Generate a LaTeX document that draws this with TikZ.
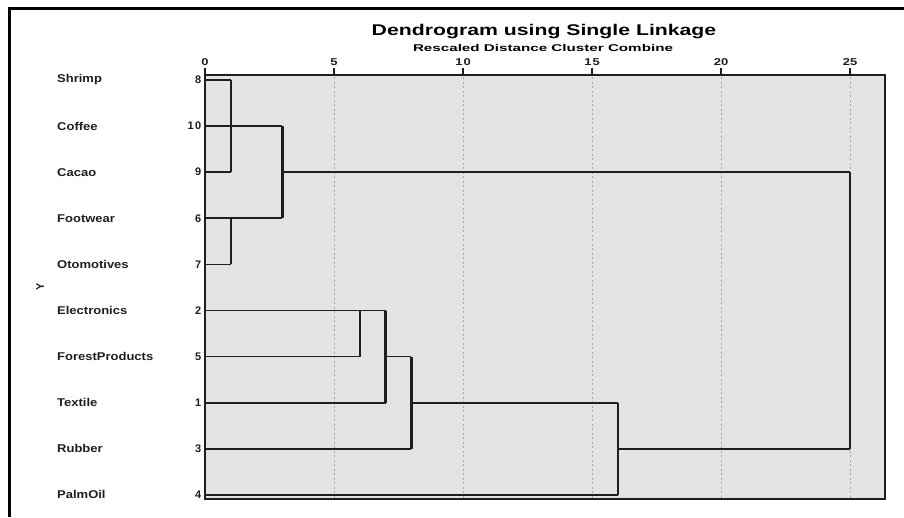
\documentclass[tikz,border=0pt]{standalone}
\usepackage{fontspec}
\usepackage{graphicx}
\setmainfont{Liberation Sans}
\definecolor{plotbg}{HTML}{E3E3E3}
\definecolor{gridc}{HTML}{A8A8A8}
\definecolor{ink}{HTML}{1E1E1E}
\newcommand\stretchtxt[2]{\scalebox{#1}[1]{#2}}
\begin{document}
\begin{tikzpicture}[x=1pt,y=-1pt,
  namelab/.style={font=\bfseries\fontsize{11.3}{11}\selectfont, inner sep=0pt, anchor=west, text=ink},
  numlab/.style={font=\bfseries\fontsize{11}{11}\selectfont, inner sep=0pt, anchor=east, text=ink},
  ticklab/.style={font=\bfseries\fontsize{10}{10}\selectfont, inner sep=0pt, text=ink},
  hbar/.style={draw=ink, line width=1.7pt},
  vbar/.style={draw=ink, line width=2.3pt},
  gridline/.style={draw=gridc, line width=0.9pt, dash pattern=on 2pt off 2.5pt},
  tickmark/.style={draw=ink, line width=2pt}]
\useasboundingbox (0,0) rectangle (904,517);
% outer frame
\draw[line width=3pt] (9,517) -- (9,8) -- (904,8);
% titles
\node[font=\bfseries\fontsize{15.5}{16}\selectfont, inner sep=0pt] (title) at (544,32) {\stretchtxt{1.37}{Dendrogram using Single Linkage}};
\node[font=\bfseries\fontsize{9.8}{10}\selectfont, inner sep=0pt] (subtitle) at (543,48) {\stretchtxt{1.55}{Rescaled Distance Cluster Combine}};
% plot area
\fill[plotbg] (205,75) rectangle (885,499);
\foreach \d in {5,10,15,20,25}
  \draw[gridline] ({205+25.8*\d},77) -- ({205+25.8*\d},498);
\draw[draw=ink, line width=1.5pt] (205,75) rectangle (885,499);
\draw[draw=ink, line width=2.2pt] (205,499) -- (205,75) -- (885,75);
% ticks and tick labels
\foreach \d in {0,5,10,15,20,25} {
  \draw[tickmark] ({205+25.8*\d},68) -- ({205+25.8*\d},75);
}
\node[ticklab] (t0) at (205,62) {\stretchtxt{1.3}{0}};
\node[ticklab] (t5) at ({205+25.8*5},62) {\stretchtxt{1.3}{5}};
\node[ticklab] (t10) at ({205+25.8*10},62) {\stretchtxt{1.3}{1\hspace{0.8pt}0}};
\node[ticklab] (t15) at ({205+25.8*15},62) {\stretchtxt{1.3}{1\hspace{0.8pt}5}};
\node[ticklab] (t20) at ({205+25.8*20},62) {\stretchtxt{1.3}{20}};
\node[ticklab] (t25) at ({205+25.8*25},62) {\stretchtxt{1.3}{25}};
% axis label
\node[font=\bfseries\fontsize{11}{11}\selectfont, inner sep=0pt, rotate=90, text=ink] (ylab) at (40,287) {Y};
% case names and numbers
\foreach \n/\lab/\num/\i in {Shrimp/Shrimp/8/0, Coffee/Coffee/1\hspace{1.5pt}0/1, Cacao/Cacao/9/2, Footwear/Footwear/6/3, Otomotives/Otomotives/7/4, Electronics/Electronics/2/5, ForestProducts/ForestProducts/5/6, Textile/Textile/1/7, Rubber/Rubber/3/8, PalmOil/PalmOil/4/9} {
  \node[namelab] (name\n) at (57,{80+46.1*\i}) {\stretchtxt{1.15}{\lab}};
  \node[numlab] (num\n) at (201.5,{80+46.1*\i}) {\num};
  \coordinate (c\n) at (205,{80+46.1*\i});
}
% merge levels (rescaled distance)
\def\dA{230.8}  % 1
\def\dC{282.4}  % 3
\def\dF{359.8}  % 6
\def\dG{385.6}  % 7
\def\dH{411.4}  % 8
\def\dP{617.8}  % 16
\def\dZ{850}    % 25
% cluster {Shrimp, Coffee, Cacao} at 1
\draw[hbar] (cShrimp) -- (\dA,0 |- cShrimp) coordinate (aTop);
\draw[hbar] (cCacao) -- (\dA,0 |- cCacao) coordinate (aBot);
\draw[vbar] (aTop) -- (aBot);
\draw[hbar] (cCoffee) -- (\dC,0 |- cCoffee) coordinate (cTop);
% cluster {Footwear, Otomotives} at 1
\draw[hbar] (cOtomotives) -- (\dA,0 |- cOtomotives) coordinate (bBot);
\draw[hbar] (cFootwear) -- (\dC,0 |- cFootwear) coordinate (cBot);
\draw[vbar] (\dA,0 |- cFootwear) -- (bBot);
% merge at 3
\draw[vbar] (cTop) -- (cBot);
\draw[hbar] (\dC,0 |- cCacao) -- (\dZ,0 |- cCacao) coordinate (zTop);
% lower group
\draw[hbar] (cElectronics) -- (\dG,0 |- cElectronics) coordinate (gTop);
\draw[hbar] (cForestProducts) -- (\dF,0 |- cForestProducts) coordinate (fBot);
\draw[vbar] (\dF,0 |- cElectronics) -- (fBot);
\draw[hbar] (cTextile) -- (\dG,0 |- cTextile) coordinate (gBot);
\draw[vbar] (gTop) -- (gBot);
\draw[hbar] (\dG,0 |- cForestProducts) -- (\dH,0 |- cForestProducts) coordinate (hTop);
\draw[hbar] (cRubber) -- (\dH,0 |- cRubber) coordinate (hBot);
\draw[vbar] (hTop) -- (hBot);
\draw[hbar] (\dH,0 |- cTextile) -- (\dP,0 |- cTextile) coordinate (pTop);
\draw[hbar] (cPalmOil) -- (\dP,0 |- cPalmOil) coordinate (pBot);
\draw[vbar] (pTop) -- (pBot);
\draw[hbar] (\dP,0 |- cRubber) -- (\dZ,0 |- cRubber) coordinate (zBot);
\draw[vbar] (zTop) -- (zBot);
\end{tikzpicture}
\end{document}
